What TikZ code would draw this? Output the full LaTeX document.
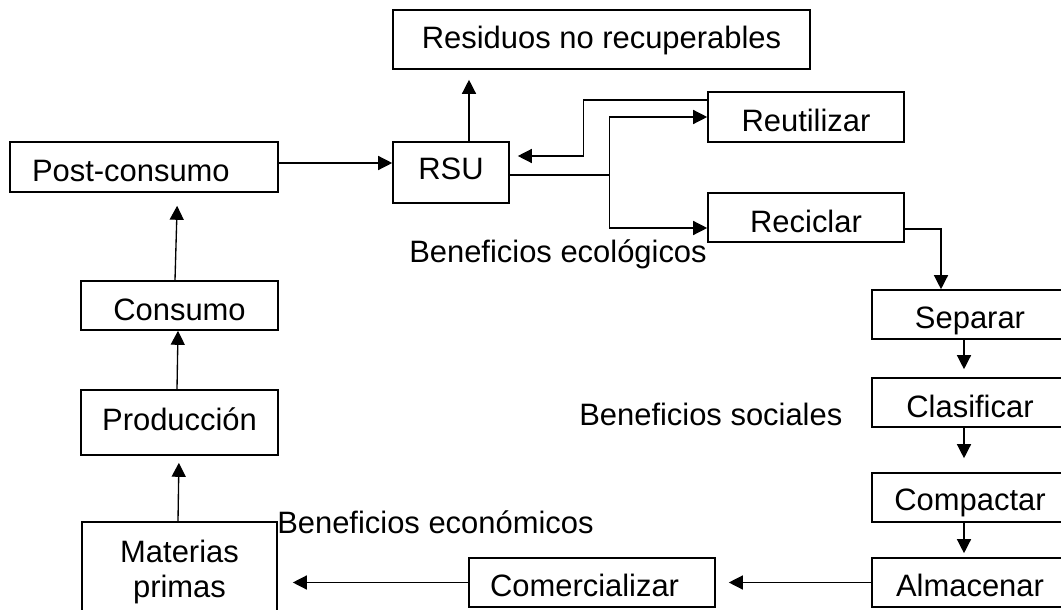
\documentclass[tikz,border=0pt]{standalone}
\usepackage{fontspec}
\setmainfont{Liberation Sans}
\usetikzlibrary{arrows.meta,calc}
\begin{document}
\begin{tikzpicture}[x=0.75pt,y=-0.75pt,
  font=\fontsize{23.2}{26.25}\selectfont,
  box/.style={draw,line width=1.2pt,inner sep=0pt},
  lbl/.style={inner sep=0pt},
  line/.style={line width=1pt},
  arr/.style={line width=1pt,-{Triangle[length=10.5pt,width=10.5pt]}}]
\useasboundingbox (0,0) rectangle (1061,610);
\clip (0,0) rectangle (1061,610);
% boxes
\node[box,minimum width=312.75pt,text height=29.25pt,text depth=15pt] (res) at (601.5,39.5) {Residuos no recuperables};
\node[box,minimum width=87pt,text height=28.5pt,text depth=17.25pt] (rsu) at (451,172.5) {RSU};
\node[box,minimum width=147pt,text height=30pt,text depth=7.5pt] (reu) at (806,117) {Reutilizar};
\node[box,minimum width=147pt,text height=29.25pt,text depth=7.5pt] (rec) at (806,217.5) {Reciclar};
\node[box,inner xsep=16.5pt,text width=168pt,align=left,text height=29.25pt,text depth=8.25pt] (post) at (144,167) {Post-consumo};
\node[box,minimum width=147.75pt,text height=29.25pt,text depth=7.5pt] (cons) at (179.5,305.5) {Consumo};
\node[box,minimum width=147.75pt,text height=30pt,text depth=18.75pt] (prod) at (179.5,422.5) {Producción};
\node[box,minimum width=146.25pt,text height=30pt,text depth=58.5pt] (mat) at (179.5,581) {\begin{tabular}[t]{@{}c@{}}Materias\\primas\end{tabular}};
\node[box,minimum width=147pt,text height=28.5pt,text depth=8.25pt] (sep) at (970,314.5) {Separar};
\node[box,minimum width=147pt,text height=29.25pt,text depth=7.5pt] (cla) at (970,402.5) {Clasificar};
\node[box,minimum width=147pt,text height=27.75pt,text depth=9pt] (com) at (970,497.5) {Compactar};
\node[box,minimum width=147pt,text height=28.5pt,text depth=8.25pt] (alm) at (970,582.5) {Almacenar};
\node[box,inner xsep=15.75pt,text width=153pt,align=left,text height=28.5pt,text depth=8.25pt] (comz) at (592,582.5) {Comercializar};
% labels
\node[lbl,anchor=base west] (eco) at (409,262) {Beneficios ecológicos};
\node[lbl,anchor=base west] (soc) at (579,425) {Beneficios sociales};
\node[lbl,anchor=base west] (econ) at (277,533) {Beneficios económicos};
% connectors
\coordinate (a1) at ([yshift=3pt]post.east);
\draw[arr] (a1) -- (a1 -| rsu.west);
\coordinate (a2) at ([xshift=13.5pt]rsu.north);
\draw[arr,shorten >=7.5pt] (a2) -- (a2 |- res.south);
\coordinate (a3) at ([yshift=12.75pt]reu.west);
\coordinate (a4) at ([yshift=12.375pt]rsu.east);
\draw[arr,shorten >=6pt] (a3) -- ++(-93pt,0) |- (a4);
\coordinate (a5) at ([yshift=-1.875pt]rsu.east);
\coordinate (j) at ([xshift=75pt]a5);
\draw[line] (a5) -- (j);
\draw[arr] (j) |- (reu.west);
\draw[arr] (j) |- ([yshift=-7.875pt]rec.west);
\coordinate (a6) at ([yshift=-8.625pt]rec.east);
\coordinate (a7) at ([xshift=-21.75pt]sep.north);
\draw[arr] (a6) -| (a7);
\draw[arr,shorten >=6pt] ([xshift=-4.5pt]sep.south) -- ([xshift=-4.5pt]cla.north);
\draw[arr,shorten >=10.5pt] ([xshift=-4.5pt]cla.south) -- ([xshift=-4.5pt]com.north);
\draw[arr,shorten >=3pt] ([xshift=-4.5pt]com.south) -- ([xshift=-4.5pt]alm.north);
\draw[arr,shorten >=9.75pt] (alm.west) -- (alm.west -| comz.east);
\draw[arr,shorten >=11.25pt] (comz.west) -- (comz.west -| mat.east);
\coordinate (b1) at ([xshift=-1.125pt]mat.north);
\coordinate (b2) at ([xshift=-0.375pt]prod.south);
\draw[arr,shorten >=5.25pt] (b1) -- (b2);
\coordinate (b3) at ([xshift=-1.875pt]prod.north);
\coordinate (b4) at ([xshift=-1.125pt]cons.south);
\draw[arr] (b3) -- (b4);
\coordinate (b5) at ([xshift=-3.375pt]cons.north);
\coordinate (b6) at ([xshift=25.125pt]post.south);
\draw[arr,shorten >=9.75pt] (b5) -- (b6);
\end{tikzpicture}
\end{document}
